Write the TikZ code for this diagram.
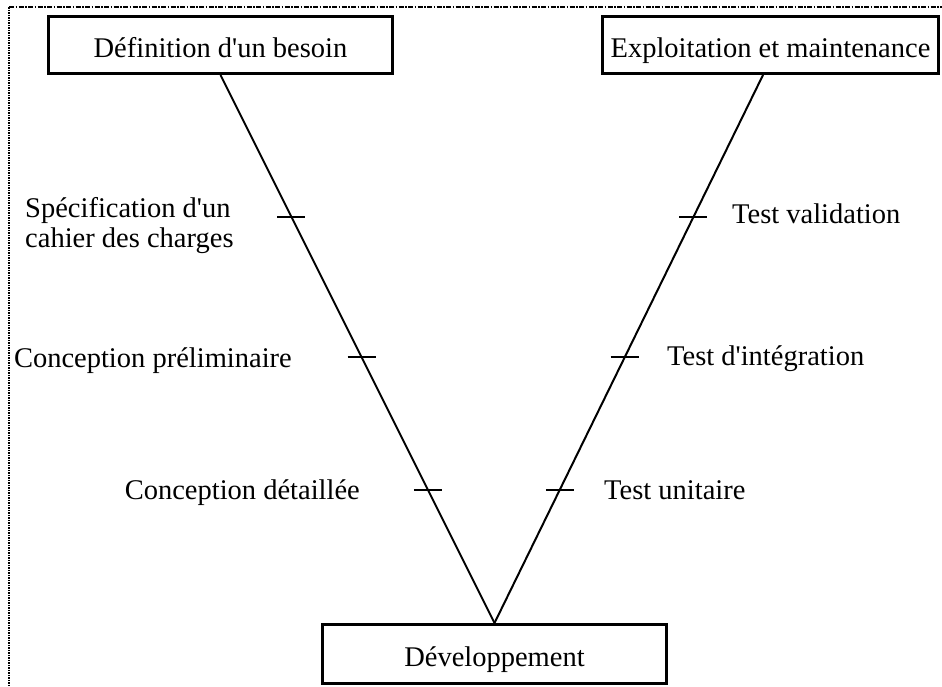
\documentclass[tikz,border=0pt]{standalone}
\usepackage{fontspec}
\setmainfont{Liberation Serif}
\begin{document}
\begin{tikzpicture}[x=1pt,y=-1pt,
  txt/.style={font=\fontsize{28.5}{30}\selectfont},
  box/.style={draw,line width=3pt,inner sep=0pt,text height=24pt,text depth=0pt,txt},
  lbl/.style={inner sep=0pt,txt},
  vline/.style={line width=2pt},
  tickmark/.style={line width=2pt}]
\useasboundingbox (0,0) rectangle (942,686);
% frame
\draw[line width=1.5pt,dash pattern=on 5pt off 1.5pt on 1.5pt off 1.5pt] (9,7) -- (942,7);
\draw[line width=2.5pt,dash pattern=on 1.5pt off 1pt] (9,7) -- (9,686);
% boxes
\node[box,minimum width=344pt,minimum height=57pt] (b1) at (220.5,45) {Définition d\textquotesingle un besoin};
\node[box,minimum width=336pt,minimum height=57pt] (b2) at (770.5,45) {Exploitation et maintenance};
\node[box,minimum width=344pt,minimum height=59pt] (dev) at (494.5,654) {Développement};
% V
\coordinate (r0) at ([xshift=-7.5pt]b2.south);
\draw[vline] (b1.south) -- (dev.north)
  coordinate[pos=0.259] (l1) coordinate[pos=0.515] (l2) coordinate[pos=0.757] (l3);
\draw[vline] (r0) -- (dev.north)
  coordinate[pos=0.259] (r1) coordinate[pos=0.515] (r2) coordinate[pos=0.757] (r3);
% ticks
\foreach \t in {l1,l2,l3,r1,r2,r3}
  \draw[tickmark] ([xshift=-14pt]\t) -- ([xshift=14pt]\t);
% labels
\node[lbl,anchor=base west,align=left] (s1) at (25,247) {Spécification d\textquotesingle un\\cahier des charges};
\node[lbl,anchor=base east] (s2) at (292,367) {Conception préliminaire};
\node[lbl,anchor=base east] (s3) at (360,499) {Conception détaillée};
\node[lbl,anchor=base west] (t1) at (732,223) {Test validation};
\node[lbl,anchor=base west] (t2) at (667,365) {Test d\textquotesingle intégration};
\node[lbl,anchor=base west] (t3) at (604,499) {Test unitaire};
\end{tikzpicture}
\end{document}
